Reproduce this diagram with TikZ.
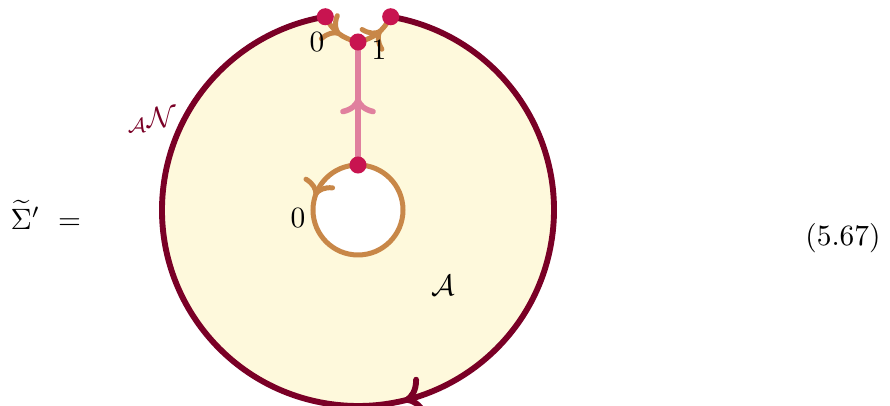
\documentclass[tikz,border=0pt]{standalone}
\usepackage{amsmath}
\usetikzlibrary{arrows.meta,decorations.markings,calc}

\definecolor{rimred}{RGB}{122,0,38}
\definecolor{sheetyellow}{RGB}{254,249,220}
\definecolor{seamorange}{RGB}{200,135,72}
\definecolor{legpink}{RGB}{224,128,158}
\definecolor{vertexred}{RGB}{200,20,80}

\tikzset{
  midarrow/.style 2 args={postaction={decorate,decoration={markings,
      mark=at position #1 with {\arrow{#2}}}}},
  vertex/.style={circle, fill=vertexred, inner sep=0pt, minimum size=5.8pt},
}

\begin{document}
\begin{tikzpicture}[x=0.34pt, y=0.34pt, every node/.style={font=\normalsize}]
  \useasboundingbox (0,0) rectangle (890,406);
  \def\rout{196}
  \def\rin{45}
  \coordinate (O) at (358,196);
  \coordinate (L) at ($(O)+(99.6:\rout)$);
  \coordinate (R) at ($(O)+(80.4:\rout)$);
  \coordinate (M) at (358,364);
  \coordinate (T) at ($(O)+(90:\rin)$);

  % the sheet
  \fill[sheetyellow] (R) arc (80.4:-260.4:\rout) to[bend right=25] (M) to[bend right=25] (R) -- cycle;
  \fill[white] (O) circle (\rin);

  % boundary
  \draw[rimred, line width=2pt,
        midarrow={0.46}{To[scale=1.1]}]
    (R) arc (80.4:-260.4:\rout);
  \draw[seamorange, line width=1.7pt,
        midarrow={0.2}{To[scale=1.0]}]
    (T) arc (90:450:\rin);
  \draw[seamorange, line width=1.7pt,
        midarrow={0.55}{To[scale=1.0]}]
    (L) to[bend right=25] (M);
  \draw[seamorange, line width=1.7pt,
        midarrow={0.62}{To[scale=1.0]}]
    (M) to[bend right=25] (R);
  \draw[legpink, line width=1.9pt,
        midarrow={0.55}{To[scale=1.0]}]
    (T) -- (M);

  \node[vertex] (vl) at (L) {};
  \node[vertex] (vr) at (R) {};
  \node[vertex] (vm) at (M) {};
  \node[vertex] (vt) at (T) {};

  % labels
  \node (lab0top) at (317,364) {$0$};
  \node (lab1top) at (379,356) {$1$};
  \node (lab0in) at (298,188) {$0$};
  \node (labA) at (443,121) {$\mathcal{A}$};
  \node[text=rimred] (labAN) at (152,286) {$_{\mathcal{A}}\mathcal{N}$};
  \node[anchor=west, inner sep=0pt] (lhs) at (10,191) {$\widetilde{\Sigma}'\ =$};
  \node (eqno) at (843,168) {(5.67)};
\end{tikzpicture}
\end{document}
